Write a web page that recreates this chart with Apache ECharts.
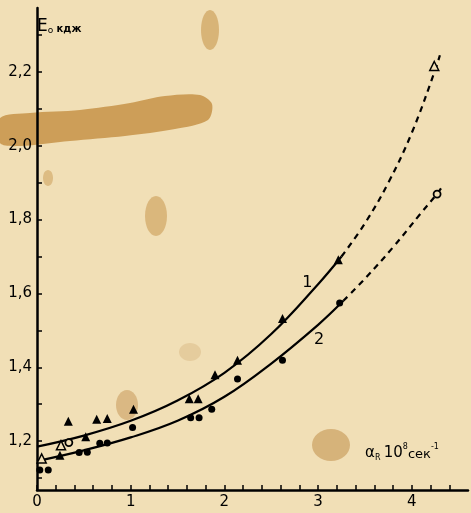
<!DOCTYPE html>
<html>
<head>
<meta charset="utf-8">
<script src="https://cdn.jsdelivr.net/npm/echarts@6/dist/echarts.min.js"></script>
<style>
  html, body { margin: 0; padding: 0; background: #f1dfb6; }
  #chart { width: 471px; height: 513px; }
</style>
</head>
<body>
<div id="chart"></div>
<script>
// curve 1 (triangles) and curve 2 (circles)
var curve1Solid = [[0, 1.185], [0.5, 1.215], [1.0, 1.255], [1.5, 1.31], [2.0, 1.385], [2.5, 1.49], [3.0, 1.625], [3.25, 1.70]];
var curve1Dash = [[3.25, 1.70], [3.5, 1.79], [3.75, 1.90], [4.0, 2.035], [4.25, 2.205], [4.3, 2.245]];
var curve2Solid = [[0, 1.146], [0.5, 1.175], [1.0, 1.21], [1.5, 1.255], [2.0, 1.32], [2.5, 1.41], [3.0, 1.515], [3.27, 1.58]];
var curve2Dash = [[3.27, 1.58], [3.5, 1.64], [3.8, 1.725], [4.09, 1.815], [4.27, 1.87], [4.34, 1.895]];

var triangles = [[0.245, 1.162], [0.334, 1.254], [0.52, 1.212], [0.637, 1.259], [0.75, 1.261], [1.03, 1.286],
    [1.625, 1.315], [1.72, 1.315], [1.90, 1.38], [2.14, 1.419], [2.62, 1.532], [3.216, 1.691]];
var trianglesOpen = [[0.05, 1.153], [0.256, 1.189], [4.24, 2.216]];
var circles = [[0.03, 1.122], [0.12, 1.122], [0.45, 1.169], [0.537, 1.170], [0.67, 1.194], [0.75, 1.195],
    [1.02, 1.237], [1.64, 1.263], [1.73, 1.263], [1.865, 1.286], [2.14, 1.368], [2.62, 1.419], [3.23, 1.574]];
var circlesOpen = [[0.34, 1.196], [4.27, 1.869]];

var curveLabels = [{ name: '1', value: [2.885, 1.628] }, { name: '2', value: [3.01, 1.473] }];

var xTicks = [0, 0.2, 0.4, 0.6, 0.8, 1, 1.2, 1.4, 1.6, 1.8, 2, 2.2, 2.4, 2.6, 2.8, 3, 3.2, 3.4, 3.6, 3.8, 4, 4.2, 4.4];
var xLabels = [0, 1, 2, 3, 4];
var yTicks = [1.1, 1.2, 1.3, 1.4, 1.5, 1.6, 1.7, 1.8, 1.9, 2.0, 2.1, 2.2, 2.3];
var yLabels = [1.2, 1.4, 1.6, 1.8, 2.0, 2.2];

var ink = '#000';
var paper = '#f1dfb6';
var font = 'DejaVu Sans';

var dom = document.getElementById('chart');
var myChart = echarts.init(dom, null, { renderer: 'canvas' });

// paper stains (decoration only)
var stain = '#c9974e';
var stains = [
    { type: 'polygon', shape: { points: [[0, 118], [30, 113], [80, 110], [130, 103], [165, 96], [200, 95], [212, 104], [208, 120], [175, 129], [125, 136], [70, 141], [20, 146], [0, 143]], smooth: 0.3 }, style: { fill: stain, opacity: 0.9 } },
    { type: 'ellipse', shape: { cx: 210, cy: 30, rx: 9, ry: 20 }, style: { fill: '#d2a968', opacity: 0.8 } },
    { type: 'ellipse', shape: { cx: 156, cy: 216, rx: 11, ry: 20 }, style: { fill: '#d4ad6e', opacity: 0.8 } },
    { type: 'ellipse', shape: { cx: 48, cy: 178, rx: 5, ry: 8 }, style: { fill: '#d4ad6e', opacity: 0.7 } },
    { type: 'ellipse', shape: { cx: 127, cy: 405, rx: 11, ry: 15 }, style: { fill: '#d2ab72', opacity: 0.75 } },
    { type: 'ellipse', shape: { cx: 331, cy: 445, rx: 19, ry: 16 }, style: { fill: '#cfa86c', opacity: 0.8 } },
    { type: 'ellipse', shape: { cx: 190, cy: 352, rx: 11, ry: 9 }, style: { fill: '#e0c393', opacity: 0.7 } }
];
stains.forEach(function (s) { s.silent = true; s.z = -10; });

var lineStyleSolid = { color: ink, width: 2.2 };
var lineStyleDash = { color: ink, width: 2.2, type: [6, 5] };
var dotStyle = { color: ink, opacity: 1 };

var option = {
    backgroundColor: paper,
    animation: false,
    textStyle: { fontFamily: font },
    grid: { left: 37, right: 3, top: 8, bottom: 23 },
    graphic: stains.concat([
        {
            type: 'text', left: 37, top: 18, z: 10,
            style: {
                text: '{e|E}{o|o} {u|кдж}',
                rich: {
                    e: { fontSize: 17, fontFamily: font, fill: ink },
                    o: { fontSize: 9, fontFamily: font, fill: ink, padding: [8, 0, 0, 0] },
                    u: { fontSize: 10, fontFamily: font, fontWeight: 'bold', fill: ink, padding: [6, 0, 0, 0] }
                }
            }
        },
        {
            type: 'text', left: 365, top: 443, z: 10,
            style: {
                text: '{a|α}{r|R} {n|10}{s|8}{u|сек}{s|-1}',
                rich: {
                    a: { fontSize: 15, fontFamily: font, fill: ink },
                    r: { fontSize: 8, fontFamily: font, fill: ink, padding: [10, 0, 0, 0] },
                    n: { fontSize: 15, fontFamily: font, fill: ink },
                    s: { fontSize: 8, fontFamily: font, fill: ink, padding: [0, 0, 12, 0] },
                    u: { fontSize: 13, fontFamily: font, fill: ink, padding: [4, 0, 0, 0] }
                }
            }
        }
    ]),
    xAxis: {
        type: 'value',
        min: 0,
        max: 4.6,
        splitLine: { show: false },
        axisLine: { lineStyle: { color: ink, width: 2.5 } },
        axisTick: { inside: true, length: 5, customValues: xTicks, lineStyle: { color: ink, width: 1.5 } },
        axisLabel: {
            customValues: xLabels, color: ink, fontSize: 15, margin: 5, fontFamily: font
        }
    },
    yAxis: {
        type: 'value',
        min: 1.0676,
        max: 2.373,
        splitLine: { show: false },
        axisLine: { lineStyle: { color: ink, width: 2.5 } },
        axisTick: { inside: true, length: 5, customValues: yTicks, lineStyle: { color: ink, width: 1.5 } },
        axisLabel: {
            customValues: yLabels, color: ink, fontSize: 15, margin: 5, fontFamily: font,
            formatter: function (v) { return v.toFixed(1).replace('.', ','); }
        }
    },
    series: [
        { name: 'c1', type: 'line', data: curve1Solid, smooth: 0.4, symbol: 'none', lineStyle: lineStyleSolid },
        { name: 'c1d', type: 'line', data: curve1Dash, smooth: 0.4, symbol: 'none', lineStyle: lineStyleDash },
        { name: 'c2', type: 'line', data: curve2Solid, smooth: 0.4, symbol: 'none', lineStyle: lineStyleSolid },
        { name: 'c2d', type: 'line', data: curve2Dash, smooth: 0.4, symbol: 'none', lineStyle: lineStyleDash },
        { name: 'tri', type: 'scatter', data: triangles, symbol: 'triangle', symbolSize: 9, itemStyle: dotStyle, z: 5 },
        { name: 'triOpen', type: 'scatter', data: trianglesOpen, symbol: 'triangle', symbolSize: 9,
            itemStyle: { color: paper, borderColor: ink, borderWidth: 1.5, opacity: 1 }, z: 5 },
        { name: 'dot', type: 'scatter', data: circles, symbol: 'circle', symbolSize: 7, itemStyle: dotStyle, z: 5 },
        { name: 'dotOpen', type: 'scatter', data: circlesOpen, symbol: 'circle', symbolSize: 7,
            itemStyle: { color: paper, borderColor: ink, borderWidth: 1.8, opacity: 1 }, z: 5 },
        {
            name: 'labels', type: 'scatter', data: curveLabels, symbolSize: 0, itemStyle: dotStyle,
            label: { show: true, position: 'inside', formatter: '{b}', color: ink, fontSize: 16, fontFamily: font }
        }
    ]
};

if (option && typeof option === 'object') {
    myChart.setOption(option, true);
}
</script>
</body>
</html>
